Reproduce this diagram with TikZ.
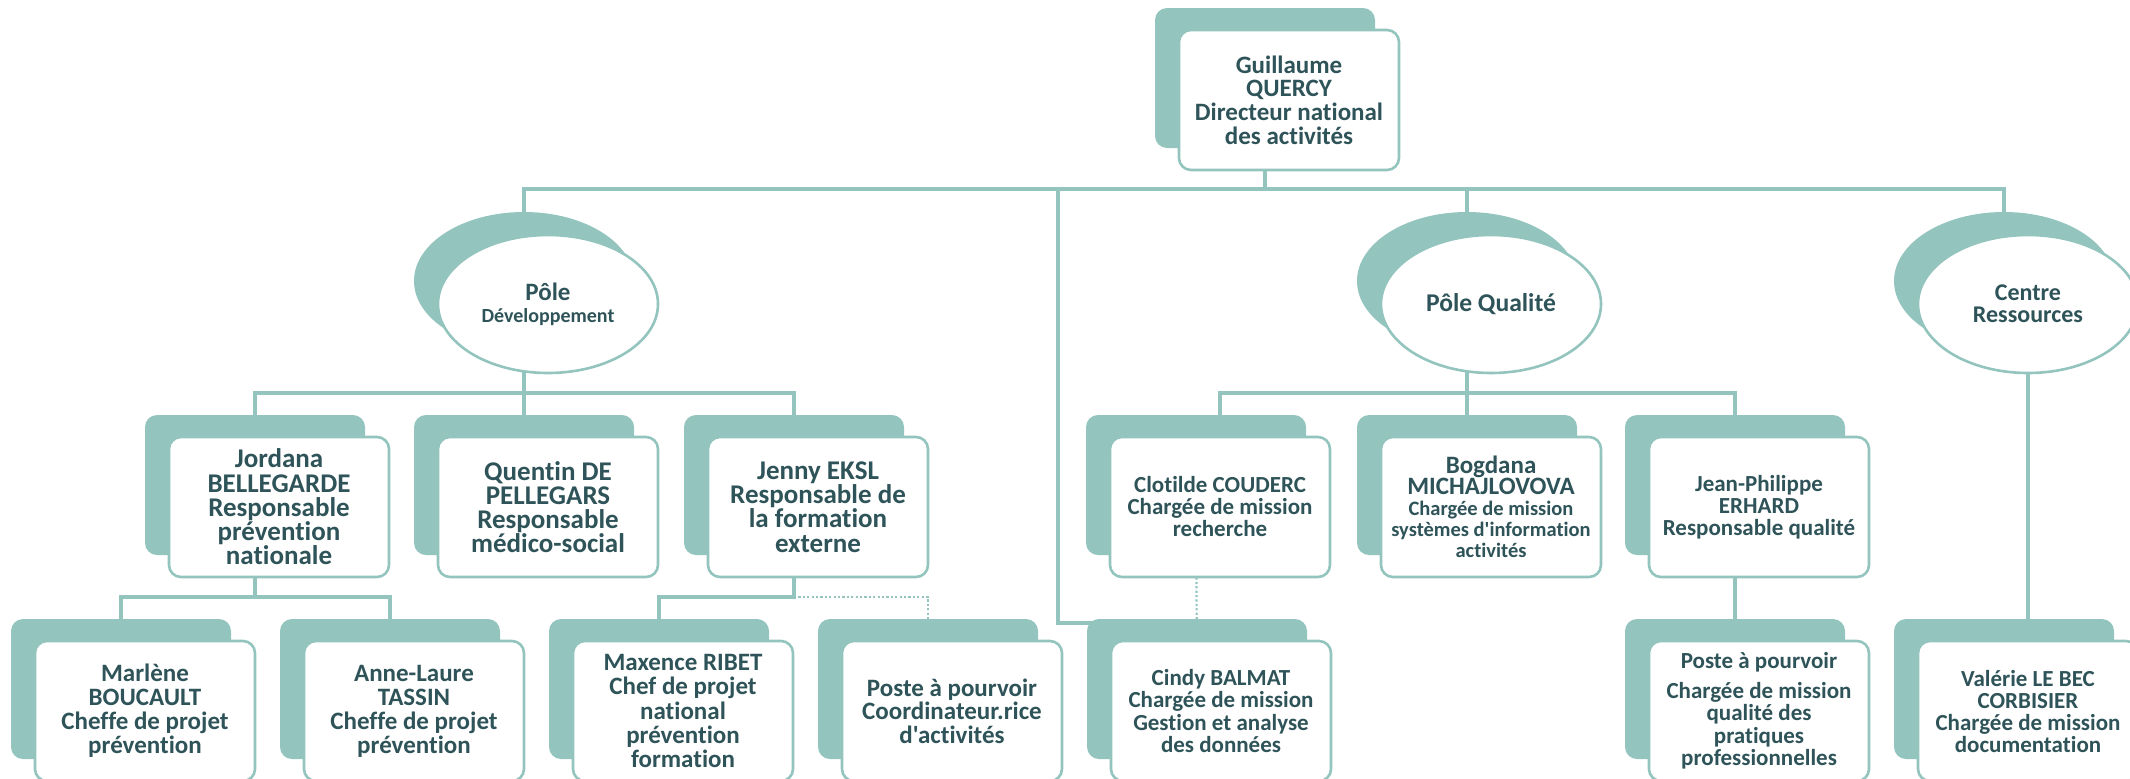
\documentclass[tikz,border=0pt]{standalone}
\usepackage{fontspec}
\setmainfont{Carlito}[Ligatures={NoCommon,TeXOff}]
\usetikzlibrary{shapes.geometric,backgrounds}
\definecolor{cardteal}{RGB}{147,196,190}
\definecolor{inkteal}{RGB}{46,83,88}
\newcommand\cardsmall{\fontsize{10.25}{10.5}\selectfont}
\tikzset{
  link/.style={
    draw=cardteal,
    line width=2pt,
  },
  vacant link/.style={
    draw=cardteal,
    line width=1.1pt,
    dash pattern=on 1.1pt off 1.1pt,
  },
  card back/.style={
    fill=cardteal,
    rounded corners=6pt,
    minimum width=110pt,
    minimum height=70pt,
  },
  card/.style 2 args={
    fill=white,
    draw=cardteal,
    line width=1.3pt,
    rounded corners=6pt,
    minimum width=110pt,
    minimum height=70pt,
    inner sep=1pt,
    align=center,
    text=inkteal,
    font={\bfseries\fontsize{#1}{#2}\selectfont},
  },
  pole back/.style={
    ellipse,
    fill=cardteal,
    minimum width=110pt,
    minimum height=69pt,
  },
  pole/.style={
    ellipse,
    fill=white,
    draw=cardteal,
    line width=1.3pt,
    minimum width=110pt,
    minimum height=69pt,
    inner sep=0pt,
    align=center,
    text=inkteal,
    font={\bfseries\fontsize{#1}{11}\selectfont},
  },
  pole/.default=12.5,
}

\begin{document}
\begin{tikzpicture}[x=0.5pt, y=-0.5pt]
  \useasboundingbox (0,0) rectangle (2130,778);

  % direction
  \node [card back] (guillaume-bg) at (1265,78) {};
  \node [card={12.5}{11.8}] (guillaume) at (1289,100) {Guillaume\\QUERCY\\Directeur national\\des activités};

  % poles
  \node [pole back] (dev-bg) at (524,281) {};
  \node [pole] (dev) at (548,304) {Pôle\\{\fontsize{10}{10}\selectfont Développement}};
  \node [pole back] (qual-bg) at (1467,281) {};
  \node [pole=12.8] (qual) at (1491,304) {Pôle Qualité};
  \node [pole back] (centre-bg) at (2004,281) {};
  \node [pole=12] (centre) at (2028,304) {Centre\\Ressources};

  % second row
  \node [card back] (jordana-bg) at (255,485) {};
  \node [card={13.5}{12.1}] (jordana) at (279,507) {Jordana\\BELLEGARDE\\Responsable\\prévention\\nationale};
  \node [card back] (quentin-bg) at (524,485) {};
  \node [card={13.5}{12.1}] (quentin) at (548,507) {Quentin DE\\PELLEGARS\\Responsable\\médico-social};
  \node [card back] (jenny-bg) at (794,485) {};
  \node [card={13.5}{12.1}] (jenny) at (818,507) {Jenny EKSL\\Responsable de\\la formation\\externe};
  \node [card back] (clotilde-bg) at (1196,485) {};
  \node [card={11.5}{11}] (clotilde) at (1220,507) {Clotilde COUDERC\\Chargée de mission\\recherche};
  \node [card back] (bogdana-bg) at (1467,485) {};
  \node [card={12.5}{10.5}] (bogdana) at (1491,507) {Bogdana\\MICHAJLOVOVA\\{\cardsmall Chargée de mission}\\{\cardsmall systèmes d'information}\\{\cardsmall activités}};
  \node [card back] (jeanphilippe-bg) at (1735,485) {};
  \node [card={11.5}{11}] (jeanphilippe) at (1759,507) {Jean-Philippe\\ERHARD\\Responsable qualité};

  % third row
  \node [card back] (marlene-bg) at (121,689) {};
  \node [card={12.5}{12}] (marlene) at (145,711) {Marlène\\BOUCAULT\\Cheffe de projet\\prévention};
  \node [card back] (annelaure-bg) at (390,689) {};
  \node [card={12.5}{12}] (annelaure) at (414,711) {Anne-Laure\\TASSIN\\Cheffe de projet\\prévention};
  \node [card back] (maxence-bg) at (659,689) {};
  \node [card={12.5}{12.2}] (maxence) at (683,711) {Maxence RIBET\\Chef de projet\\national\\prévention\\formation};
  \node [card back] (coordinateur-bg) at (928,689) {};
  \node [card={12.5}{11.8}] (coordinateur) at (952,711) {Poste à pourvoir\\Coordinateur.rice\\d'activités};
  \node [card back] (cindy-bg) at (1197,689) {};
  \node [card={11.5}{11.3}] (cindy) at (1221,711) {Cindy BALMAT\\Chargée de mission\\Gestion et analyse\\des données};
  \node [card back] (qualiteposte-bg) at (1735,689) {};
  \node [card={11.5}{11.3}] (qualiteposte) at (1759,711) {Poste à pourvoir\\[3.5pt]Chargée de mission\\qualité des\\pratiques\\professionnelles};
  \node [card back] (valerie-bg) at (2004,689) {};
  \node [card={11.5}{11}] (valerie) at (2028,711) {Valérie LE BEC\\CORBISIER\\Chargée de mission\\documentation};

  % connectors
  \coordinate (top-join) at (1265,189);
  \coordinate (cindy-drop) at (1058,189);
  \coordinate (dev-join) at (524,393);
  \coordinate (qual-join) at (1467,393);
  \coordinate (jordana-join) at (255,597);
  \coordinate (jenny-join) at (794,597);
  \begin{scope}[on background layer]
    \draw [link] (guillaume-bg.center) -- (top-join);
    \draw [link] (dev-bg.center) |- (top-join) -| (centre-bg.center);
    \draw [link] (top-join) -| (qual-bg.center);
    \draw [link] (cindy-drop) |- ([yshift=-2pt]cindy-bg.north);

    \draw [link] (dev-bg.center) -- (quentin-bg.center);
    \draw [link] (jordana-bg.center) |- (dev-join) -| (jenny-bg.center);
    \draw [link] (qual-bg.center) -- (bogdana-bg.center);
    \draw [link] (clotilde.center) |- (qual-join) -| (jeanphilippe-bg.center);
    \draw [link] (centre.center) -- (valerie.center);

    \draw [link] (jordana-bg.center) -- (jordana-join);
    \draw [link] (marlene-bg.center) |- (jordana-join) -| (annelaure-bg.center);
    \draw [link] (jenny-bg.center) -- (jenny-join) -| (maxence-bg.center);
    \draw [vacant link] (jenny-join) -| (coordinateur-bg.center);
    \draw [vacant link] (clotilde-bg.center) -- (cindy-bg.center);
    \draw [link] (jeanphilippe-bg.center) -- (qualiteposte-bg.center);
  \end{scope}
\end{tikzpicture}
\end{document}
